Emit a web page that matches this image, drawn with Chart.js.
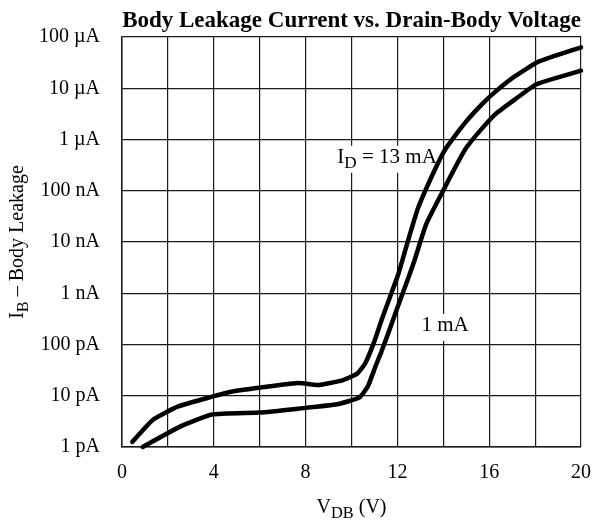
<!DOCTYPE html>
<html>
<head>
<meta charset="utf-8">
<script src="https://cdn.jsdelivr.net/npm/chart.js@4.4.1/dist/chart.umd.min.js"></script>
<style>
  body { margin: 0; background: #fff; }
  #wrap { width: 605px; height: 527px; }
</style>
</head>
<body>
<div id="wrap"><canvas id="leakChart" width="605" height="527"></canvas></div>
<script>
// Curva I_D = 13 mA
const vdbHigh = [0.45, 1.35, 2.45, 3.92, 4.75, 7.65, 8.55, 9.6, 10.25, 10.6, 10.98, 11.3, 11.67, 12.03, 12.46, 12.9, 13.6, 14.1, 14.9, 15.69, 16.26, 17.11, 18.15, 20];
const ibHigh = [1.26e-12, 3.4e-12, 6.2e-12, 9.6e-12, 1.2e-11, 1.78e-11, 1.62e-11, 2.0e-11, 2.7e-11, 4.3e-11, 1.1e-10, 2.9e-10, 8.3e-10, 2.3e-9, 1.05e-8, 4.6e-8, 2.4e-7, 6.6e-7, 2.0e-6, 4.9e-6, 8.5e-6, 1.7e-5, 3.3e-5, 6.3e-5];

// Curva I_D = 1 mA
const vdbLow = [0.9, 2.53, 3.92, 6.0, 7.69, 9.37, 10.35, 10.72, 11.05, 11.3, 11.6, 12.03, 12.4, 12.74, 13.25, 13.97, 14.47, 14.97, 15.69, 16.3, 17.11, 18.06, 20];
const ibLow = [1.0e-12, 2.5e-12, 4.3e-12, 4.7e-12, 5.6e-12, 6.8e-12, 9.3e-12, 1.55e-11, 3.8e-11, 7.2e-11, 1.65e-10, 5.7e-10, 1.6e-9, 4.3e-9, 2.2e-8, 9.6e-8, 2.6e-7, 6.6e-7, 1.65e-6, 3.2e-6, 6.0e-6, 1.2e-5, 2.2e-5];

const yTickValues = [1e-12, 1e-11, 1e-10, 1e-9, 1e-8, 1e-7, 1e-6, 1e-5, 1e-4];
const yTickLabels = ['1 pA', '10 pA', '100 pA', '1 nA', '10 nA', '100 nA', '1 \u00b5A', '10 \u00b5A', '100 \u00b5A'];
const xTickLabels = ['0', '4', '8', '12', '16', '20'];

// etiquetas de las curvas: [texto, subindice, resto, V, I]
const curveLabels = [
    ['I', 'D', ' = 13 mA', 11.55, 4.4e-7],
    ['1 mA', '', '', 14.08, 2.3e-10]
];

const SERIF = '"Liberation Serif", "DejaVu Serif", serif';

function toPoints(xs, ys) {
    return xs.map((x, i) => ({ x: x, y: ys[i] }));
}

// dibuja texto con subindice, devuelve ancho total
function drawSub(ctx, parts, x, y, size, align) {
    const sub = size * 0.82;
    ctx.font = size + 'px ' + SERIF;
    const w0 = ctx.measureText(parts[0]).width;
    ctx.font = sub + 'px ' + SERIF;
    const w1 = ctx.measureText(parts[1]).width;
    ctx.font = size + 'px ' + SERIF;
    const w2 = ctx.measureText(parts[2]).width;
    const total = w0 + w1 + w2;
    const sx = align === 'center' ? x - total / 2 : x;
    ctx.textAlign = 'left';
    ctx.textBaseline = 'middle';
    ctx.fillText(parts[0], sx, y);
    ctx.font = sub + 'px ' + SERIF;
    ctx.fillText(parts[1], sx + w0, y + size * 0.28);
    ctx.font = size + 'px ' + SERIF;
    ctx.fillText(parts[2], sx + w0 + w1, y);
    return total;
}

const decorPlugin = {
    id: 'decor',
    beforeDatasetsDraw(chart) {
        const ctx = chart.ctx;
        const xs = chart.scales.x, ys = chart.scales.y;
        ctx.save();
        curveLabels.forEach(l => {
            const px = xs.getPixelForValue(l[3]);
            const py = ys.getPixelForValue(l[4]);
            ctx.font = '21px ' + SERIF;
            const w = ctx.measureText(l[0] + l[1] + l[2]).width;
            ctx.fillStyle = '#fff';
            ctx.fillRect(px - w / 2 - 3, py - 12, w + 6, 27);
            ctx.fillStyle = '#000';
            drawSub(ctx, [l[0], l[1], l[2]], px, py, 21, 'center');
        });
        ctx.restore();
    },
    afterDraw(chart) {
        const ctx = chart.ctx;
        const a = chart.chartArea;
        ctx.save();
        ctx.fillStyle = '#000';
        // titulo
        ctx.font = 'bold 23px ' + SERIF;
        ctx.textAlign = 'center';
        ctx.textBaseline = 'alphabetic';
        ctx.fillText('Body Leakage Current vs. Drain-Body Voltage', (a.left + a.right) / 2, 27);
        // titulo eje x
        drawSub(ctx, ['V', 'DB', ' (V)'], (a.left + a.right) / 2, 508, 20, 'center');
        // titulo eje y
        ctx.translate(18, (a.top + a.bottom) / 2);
        ctx.rotate(-Math.PI / 2);
        drawSub(ctx, ['I', 'B', ' \u2013 Body Leakage'], 0, 0, 20, 'center');
        ctx.restore();
    }
};

const ctx = document.getElementById('leakChart').getContext('2d');
const leakChart = new Chart(ctx, {
    type: 'line',
    data: {
        datasets: [{
            label: 'ID = 13 mA',
            data: toPoints(vdbHigh, ibHigh),
            borderColor: '#000',
            borderWidth: 4.5,
            pointRadius: 0,
            tension: 0.15,
            borderCapStyle: 'round',
            borderJoinStyle: 'round'
        }, {
            label: '1 mA',
            data: toPoints(vdbLow, ibLow),
            borderColor: '#000',
            borderWidth: 4.5,
            pointRadius: 0,
            tension: 0.15,
            borderCapStyle: 'round',
            borderJoinStyle: 'round'
        }]
    },
    options: {
        responsive: false,
        animation: false,
        clip: false,
        layout: { padding: { top: 37, right: 23, left: 0, bottom: 0 } },
        plugins: {
            legend: { display: false },
            tooltip: { enabled: false },
            title: { display: false }
        },
        scales: {
            x: {
                type: 'linear',
                min: 0,
                max: 20,
                afterFit: (s) => { s.height = 80; },
                afterBuildTicks: (s) => {
                    s.ticks = [0, 2, 4, 6, 8, 10, 12, 14, 16, 18, 20].map(v => ({ value: v }));
                },
                ticks: {
                    color: '#000',
                    padding: 14,
                    maxRotation: 0,
                    autoSkip: false,
                    font: { family: SERIF, size: 20 },
                    callback: (v) => xTickLabels.includes(String(v)) ? String(v) : ''
                },
                grid: { color: '#1a1a1a', lineWidth: 1.2, drawTicks: false },
                border: { color: '#1a1a1a', width: 1.5 }
            },
            y: {
                type: 'logarithmic',
                min: 1e-12,
                max: 1e-4,
                afterFit: (s) => { s.width = 122; },
                afterBuildTicks: (s) => {
                    s.ticks = yTickValues.map(v => ({ value: v }));
                },
                ticks: {
                    color: '#000',
                    padding: 22,
                    autoSkip: false,
                    font: { family: SERIF, size: 20 },
                    callback: (v) => {
                        const i = yTickValues.findIndex(t => Math.abs(Math.log10(t) - Math.log10(v)) < 0.01);
                        return i >= 0 ? yTickLabels[i] : '';
                    }
                },
                grid: { color: '#1a1a1a', lineWidth: 1.2, drawTicks: false },
                border: { color: '#1a1a1a', width: 1.5 }
            }
        }
    },
    plugins: [decorPlugin]
});
</script>
</body>
</html>
